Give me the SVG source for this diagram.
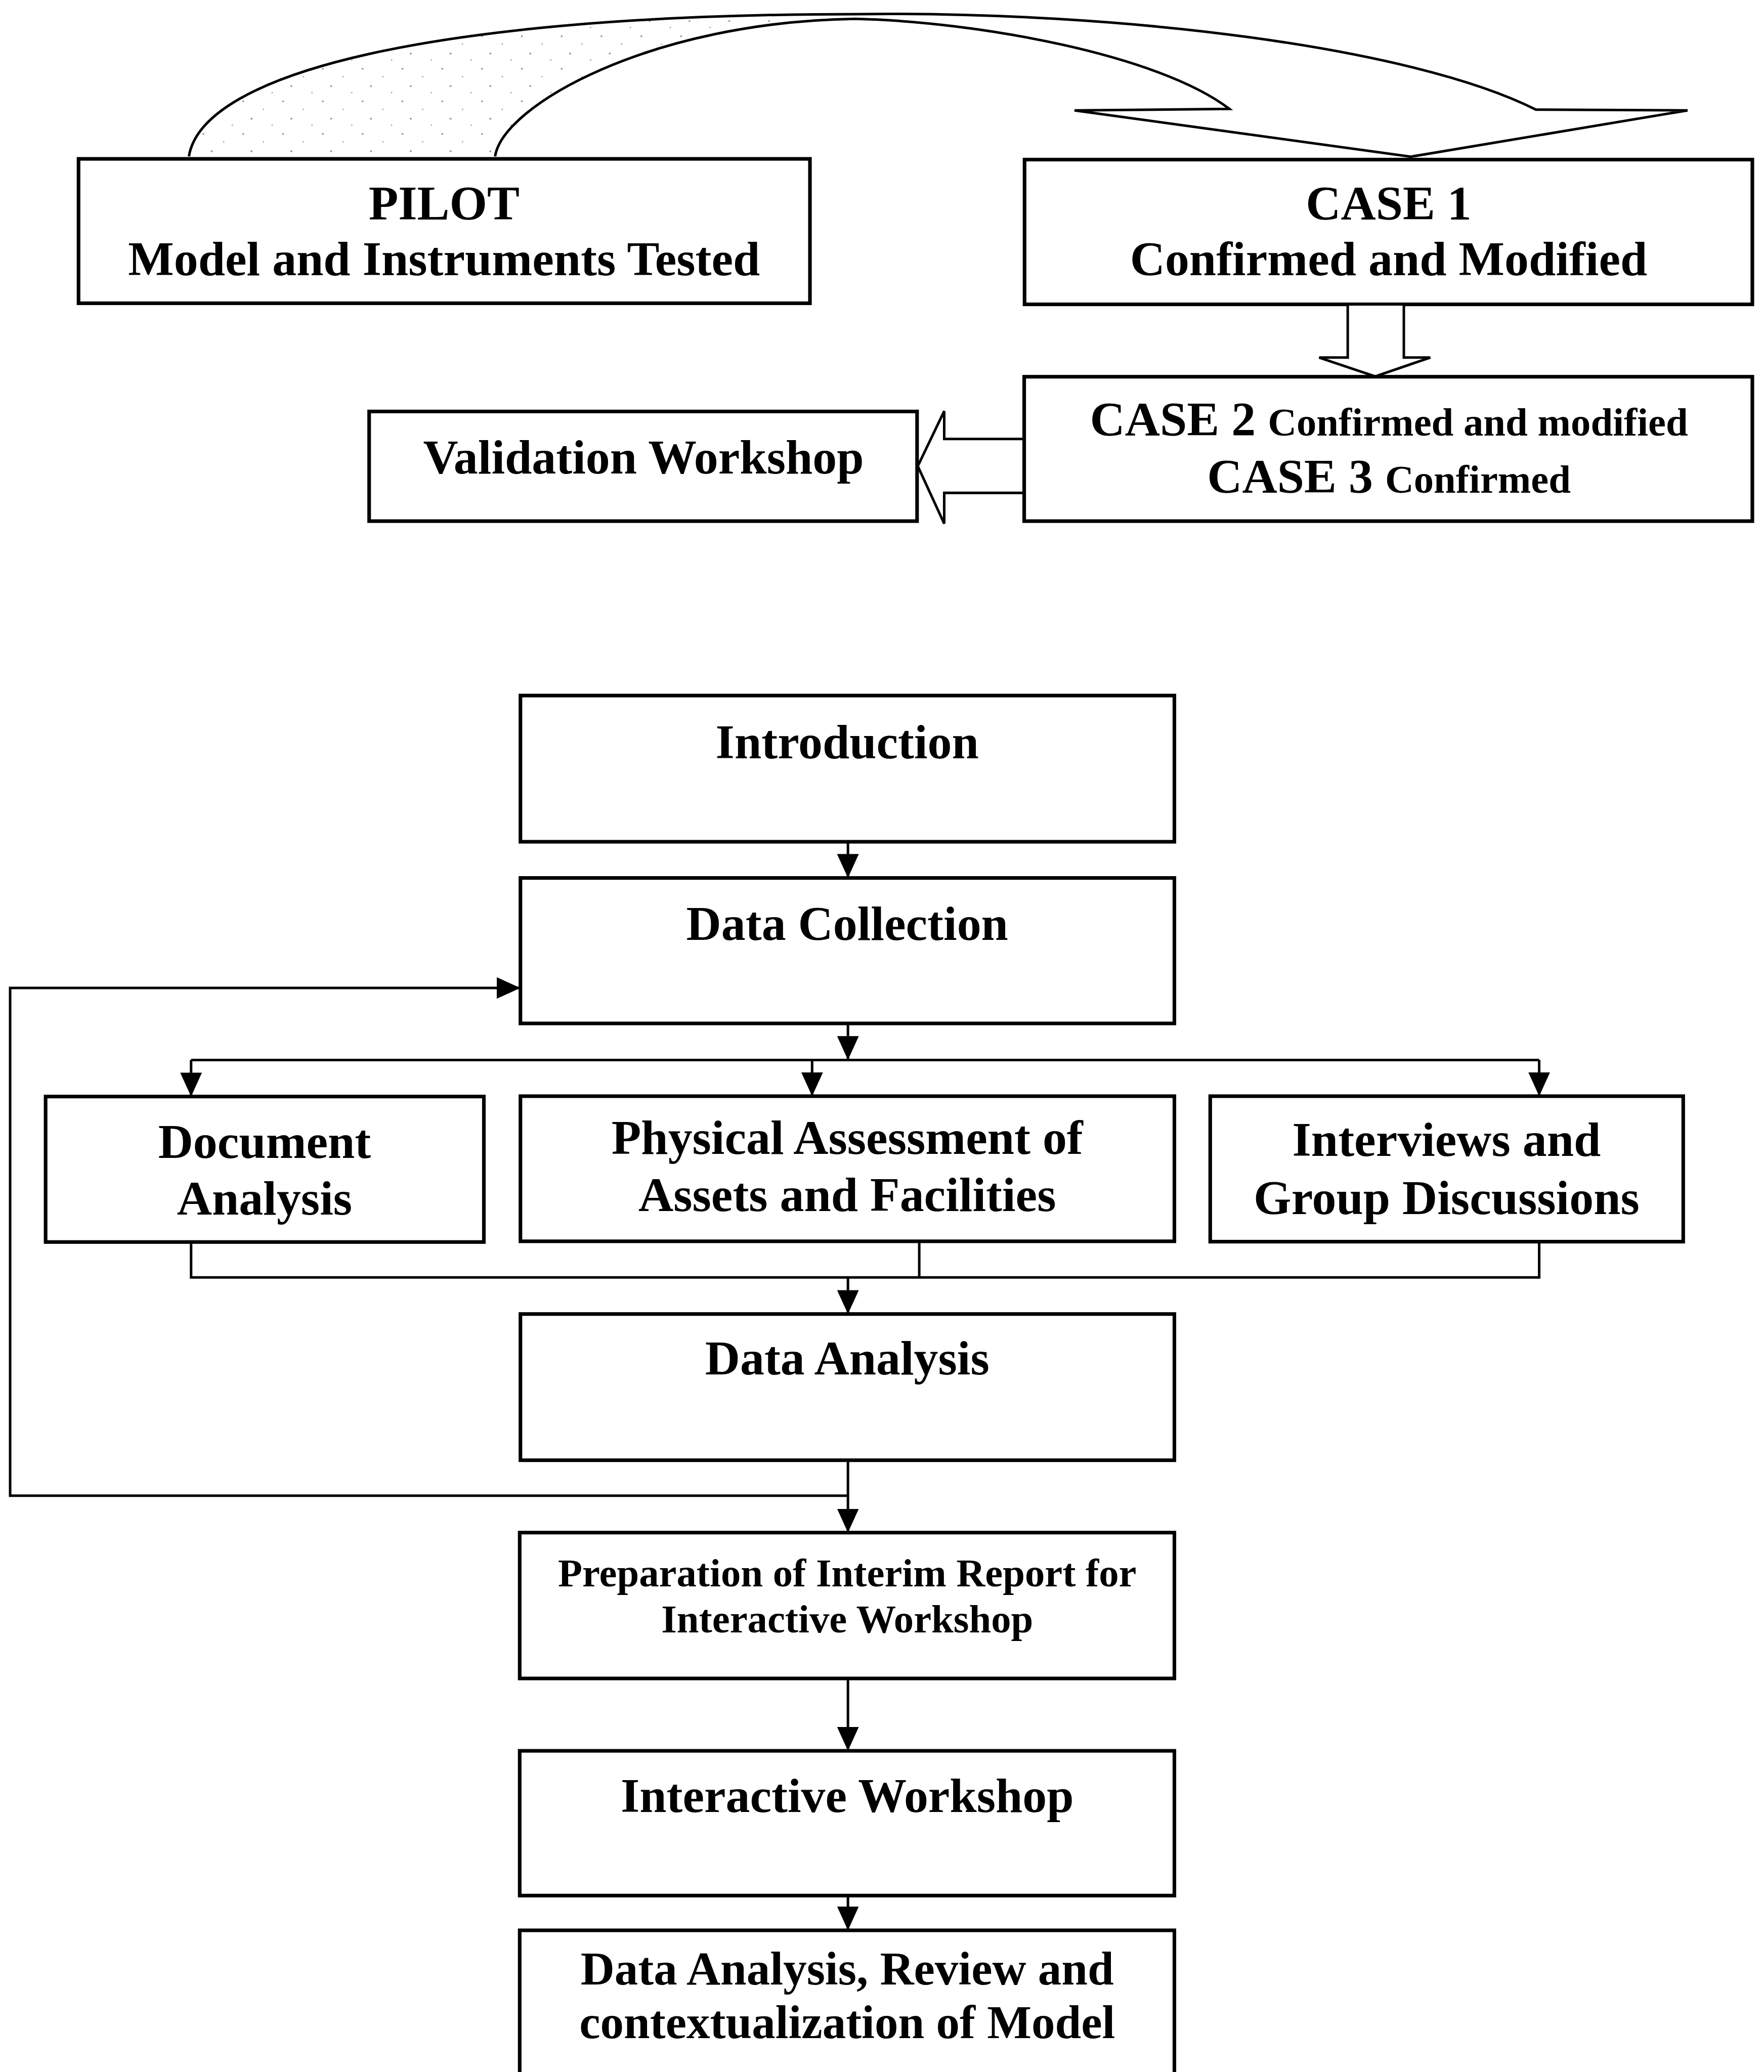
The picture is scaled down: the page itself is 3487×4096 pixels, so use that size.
<svg xmlns="http://www.w3.org/2000/svg" width="3487" height="4096" viewBox="0 0 3487 4096">
  <defs>
    <style>
      .box { fill: #fff; stroke: #000; stroke-width: 10; }
      .t { font-family: "Liberation Serif", "Times New Roman", serif; font-weight: bold; font-size: 134px; text-anchor: middle; fill: #000; }
      .s { font-size: 110px; }
      .m { font-size: 130px; }
      .c { fill: none; stroke: #000; stroke-width: 7; }
      .hollow { fill: #fff; stroke: #000; stroke-width: 7; stroke-linejoin: miter; }
      .curve { fill: none; stroke: #000; stroke-width: 7; stroke-linejoin: miter; }
    </style>
    <marker id="ah" markerUnits="userSpaceOnUse" markerWidth="66" markerHeight="60" refX="66" refY="30" orient="auto" viewBox="0 0 66 60">
      <path d="M0,0 L66,30 L0,60 Z" fill="#000"/>
    </marker>
    <!-- sparse speckle used to shade the tail of the curved arrow -->
    <pattern id="stipple" patternUnits="userSpaceOnUse" width="110" height="90">
      <circle cx="12" cy="10" r="2.5" fill="#8a8a8a"/>
      <circle cx="68" cy="32" r="2" fill="#9a9a9a"/>
      <circle cx="35" cy="58" r="2.5" fill="#8a8a8a"/>
      <circle cx="92" cy="76" r="2" fill="#9a9a9a"/>
    </pattern>
  </defs>

  <rect x="0" y="0" width="3487" height="4096" fill="#fff"/>

  <g transform="scale(0.7154)">

    <!-- curved block arrow from PILOT over to CASE 1 -->
    <g id="curved-arrow">
      <path d="M522,432 C560,200 1200,40 2364,39 L2364,52 C1800,60 1390,290 1368,432 Z" fill="url(#stipple)" stroke="none"/>
      <path class="curve" d="M522,432 C560,200 1200,40 2364,39 C3100,30 3900,130 4244,303 L4663,305 L3898,433 L2969,305 L3397,301 C3200,150 2700,60 2364,52 C1800,60 1390,290 1368,432"/>
    </g>

    <!-- top row -->
    <g id="pilot">
      <rect class="box" x="217" y="439" width="2021" height="399"/>
      <text class="t" x="1227" y="607">PILOT</text>
      <text class="t" x="1227" y="761">Model and Instruments Tested</text>
    </g>
    <g id="case1">
      <rect class="box" x="2831" y="441" width="2011" height="400"/>
      <text class="t" x="3837" y="607">CASE 1</text>
      <text class="t" x="3837" y="761">Confirmed and Modified</text>
    </g>

    <!-- hollow block arrows between the cases -->
    <g id="hollow-arrows">
      <polygon class="hollow" points="3724,841 3724,988 3645,988 3800,1040 3952,988 3879,988 3879,841"/>
      <polygon class="hollow" points="2830,1213 2609,1213 2609,1136 2536,1288 2609,1447 2609,1362 2830,1362"/>
    </g>

    <g id="case2-3">
      <rect class="box" x="2830" y="1041" width="2012" height="399"/>
      <text class="t" x="3838" y="1203">CASE 2 <tspan class="s">Confirmed and modified</tspan></text>
      <text class="t" x="3838" y="1362">CASE 3 <tspan class="s">Confirmed</tspan></text>
    </g>
    <g id="validation">
      <rect class="box" x="1020" y="1137" width="1514" height="303"/>
      <text class="t" x="1778" y="1308">Validation Workshop</text>
    </g>

    <!-- connectors of the lower flowchart -->
    <g id="connectors">
      <line class="c" x1="2343" y1="2326" x2="2343" y2="2426" marker-end="url(#ah)"/>
      <line class="c" x1="2343" y1="2828" x2="2343" y2="2929" marker-end="url(#ah)"/>
      <line class="c" x1="528" y1="2929" x2="4253" y2="2929"/>
      <line class="c" x1="528" y1="2929" x2="528" y2="3030" marker-end="url(#ah)"/>
      <line class="c" x1="2244" y1="2929" x2="2244" y2="3029" marker-end="url(#ah)"/>
      <line class="c" x1="4253" y1="2929" x2="4253" y2="3029" marker-end="url(#ah)"/>
      <polyline class="c" points="528,3432 528,3530 4253,3530 4253,3431"/>
      <line class="c" x1="2540" y1="3430" x2="2540" y2="3530"/>
      <line class="c" x1="2343" y1="3530" x2="2343" y2="3631" marker-end="url(#ah)"/>
      <line class="c" x1="2343" y1="4035" x2="2343" y2="4235" marker-end="url(#ah)"/>
      <polyline class="c" points="2343,4133 28,4133 28,2730 1438,2730" marker-end="url(#ah)"/>
      <line class="c" x1="2343" y1="4638" x2="2343" y2="4838" marker-end="url(#ah)"/>
      <line class="c" x1="2343" y1="5238" x2="2343" y2="5334" marker-end="url(#ah)"/>
    </g>

    <g id="introduction">
      <rect class="box" x="1438" y="1922" width="1807" height="404"/>
      <text class="t" x="2341" y="2095">Introduction</text>
    </g>
    <g id="data-collection">
      <rect class="box" x="1438" y="2426" width="1807" height="402"/>
      <text class="t" x="2341" y="2597">Data Collection</text>
    </g>
    <g id="document-analysis">
      <rect class="box" x="126" y="3030" width="1211" height="402"/>
      <text class="t" x="731" y="3199">Document</text>
      <text class="t" x="731" y="3356">Analysis</text>
    </g>
    <g id="physical-assessment">
      <rect class="box" x="1438" y="3029" width="1807" height="401"/>
      <text class="t" x="2341" y="3189">Physical Assessment of</text>
      <text class="t" x="2341" y="3347">Assets and Facilities</text>
    </g>
    <g id="interviews">
      <rect class="box" x="3344" y="3029" width="1307" height="402"/>
      <text class="t" x="3997" y="3194">Interviews and</text>
      <text class="t" x="3997" y="3355">Group Discussions</text>
    </g>
    <g id="data-analysis">
      <rect class="box" x="1438" y="3631" width="1807" height="404"/>
      <text class="t" x="2341" y="3798">Data Analysis</text>
    </g>
    <g id="interim-report">
      <rect class="box" x="1436" y="4235" width="1809" height="403"/>
      <text class="t s" x="2341" y="4384">Preparation of Interim Report for</text>
      <text class="t s" x="2341" y="4511">Interactive Workshop</text>
    </g>
    <g id="interactive-workshop">
      <rect class="box" x="1436" y="4838" width="1809" height="400"/>
      <text class="t" x="2341" y="5007">Interactive Workshop</text>
    </g>
    <g id="review-model">
      <rect class="box" x="1436" y="5334" width="1809" height="460"/>
      <text class="t m" x="2341" y="5484">Data Analysis, Review and</text>
      <text class="t m" x="2341" y="5632">contextualization of Model</text>
    </g>
  </g>
</svg>
